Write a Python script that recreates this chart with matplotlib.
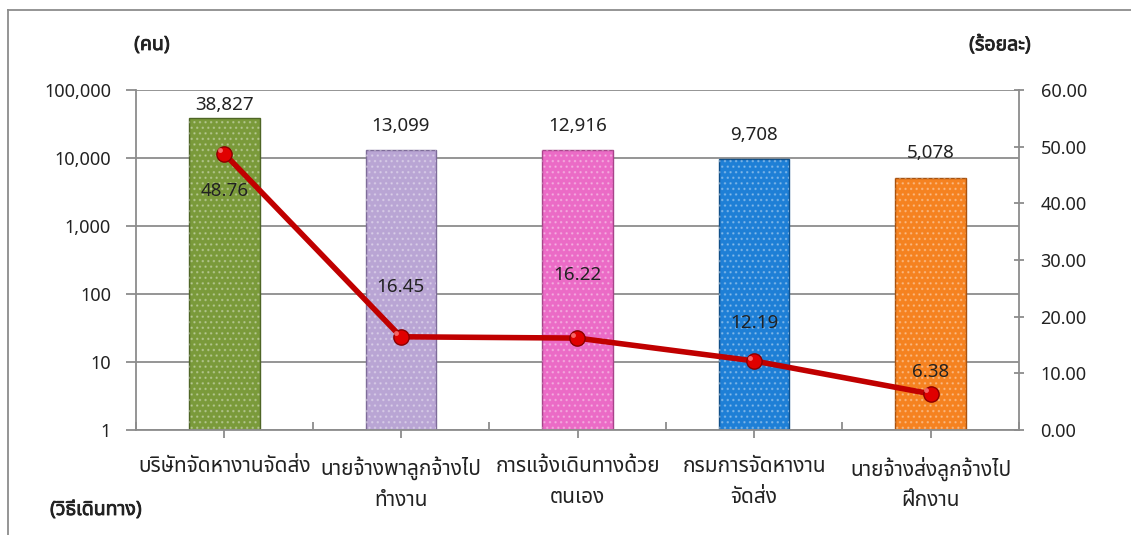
import matplotlib
matplotlib.use("Agg")
import matplotlib.pyplot as plt
from matplotlib import font_manager, patheffects
from matplotlib.ft2font import FT2Font
from matplotlib.ticker import FixedLocator, FuncFormatter
import numpy as np

categories = ["บริษัทจัดหางานจัดส่ง", "นายจ้างพาลูกจ้างไป\nทำงาน", "การแจ้งเดินทางด้วย\nตนเอง",
              "กรมการจัดหางาน\nจัดส่ง", "นายจ้างส่งลูกจ้างไป\nฝึกงาน"]
persons = [38827, 13099, 12916, 9708, 5078]
percent = [48.76, 16.45, 16.22, 12.19, 6.38]
bar_colors = ["#7A9A3A", "#B9A5D4", "#EB6BC6", "#1E7FD6", "#F58220"]
edge_colors = ["#4F6626", "#7E6C99", "#A8448A", "#10508A", "#A8520F"]
left_ticks = [1, 10, 100, 1000, 10000, 100000]
right_ticks = [0, 10, 20, 30, 40, 50, 60]

# find a font with Thai glyphs
thai_family = None
pref = ["Tahoma", "Noto Sans Thai", "Noto Sans Thai Looped", "Loma", "Garuda", "Sarabun",
        "Noto Sans", "DejaVu Sans", "Open Sans", "Lato", "Roboto", "Inter"]
cands = {}
for f in font_manager.fontManager.ttflist:
    try:
        cm = FT2Font(f.fname).get_charmap()
        if 0x0E01 in cm:
            cands.setdefault(f.name, f.fname)
    except Exception:
        pass
for p in pref:
    if p in cands:
        thai_family = p
        break
if thai_family is None and cands:
    thai_family = sorted(cands)[0]
families = ([thai_family] if thai_family else []) + ["DejaVu Sans"]
plt.rcParams["font.family"] = families

fig = plt.figure(figsize=(11.31, 5.35), dpi=100)
W, H = 1131, 535
ax = fig.add_axes([136 / W, 1 - 430 / H, (1019 - 136) / W, (430 - 90) / H])
ax2 = ax.twinx()

x = np.arange(len(categories))
ax.set_yscale("log")
ax.set_ylim(1, 100000)
ax.set_xlim(-0.5, len(categories) - 0.5)
ax.bar(x, persons, width=0.4, color=bar_colors, edgecolor=edge_colors, linewidth=1.0, zorder=2)
ax.bar(x, persons, width=0.4, color="none", edgecolor=(1, 1, 1, 0.3), hatch="...", linewidth=0, zorder=3)

ax.yaxis.set_major_locator(FixedLocator(left_ticks))
ax.yaxis.set_minor_locator(FixedLocator([]))
ax.yaxis.set_major_formatter(FuncFormatter(lambda v, p: f"{int(round(v)):,}"))
ax.grid(axis="y", color="#8C8C8C", linewidth=1.3, zorder=0)
ax.set_axisbelow(True)

ax.set_xticks(np.arange(-0.5, len(categories), 1.0), minor=False)
ax.set_xticklabels([])
ax.set_xticks(x, minor=True)
ax.set_xticklabels(categories, minor=True, fontsize=15, color="#222222", linespacing=1.6)
ax.tick_params(axis="x", which="major", length=6, direction="in", color="#8C8C8C", width=1.3)
ax.tick_params(axis="x", which="minor", length=6, direction="out", color="#8C8C8C", width=1.3, pad=13)
ax.tick_params(axis="y", length=7, direction="out", color="#8C8C8C", width=1.3, labelsize=13, labelcolor="#222222", pad=11)

for s in ["top", "right"]:
    ax.spines[s].set_visible(False)
ax.spines["left"].set_color("#8C8C8C")
ax.spines["left"].set_linewidth(1.3)
ax.spines["bottom"].set_color("#8C8C8C")
ax.spines["bottom"].set_linewidth(1.3)

bar_offsets = [13, 24, 24, 24, 25]
for xi, v, off in zip(x, persons, bar_offsets):
    ax.annotate(f"{v:,}", (xi, v), xytext=(0, off), textcoords="offset pixels",
                ha="center", va="center", fontsize=13.5, color="#222222", zorder=6)

ax2.set_ylim(0, 60)
ax2.yaxis.set_major_locator(FixedLocator(right_ticks))
ax2.yaxis.set_major_formatter(FuncFormatter(lambda v, p: f"{v:.2f}"))
ax2.plot(x, percent, color="#C00000", linewidth=4.0, zorder=4, solid_capstyle="round")
ax2.plot(x, percent, linestyle="none", marker="o", markersize=11, markerfacecolor="#E00000",
         markeredgecolor="#8A0000", markeredgewidth=1.0, zorder=5)
ax2.plot(np.array(x) - 0.025, np.array(percent) + 0.6, linestyle="none", marker="o", markersize=3.5,
         markerfacecolor="#FF8080", markeredgewidth=0, zorder=6, alpha=0.8)
for s in ["top", "left", "bottom"]:
    ax2.spines[s].set_visible(False)
ax2.spines["right"].set_color("#8C8C8C")
ax2.spines["right"].set_linewidth(1.3)
ax2.tick_params(axis="y", length=7, direction="inout", color="#8C8C8C", width=1.3, labelsize=13, labelcolor="#222222", pad=12)

offsets = [(0, -37), (0, 50), (0, 63), (0, 38), (0, 22)]
for xi, v, off in zip(x, percent, offsets):
    ax2.annotate(f"{v:.2f}", (xi, v), xytext=off, textcoords="offset pixels",
                 ha="center", va="center", fontsize=13.5, color="#222222", zorder=7)

bold = [patheffects.withStroke(linewidth=0.6, foreground="#222222")]
fig.text(152 / W, 1 - 45 / H, "(คน)", ha="center", va="center", fontsize=14, fontweight="bold",
         color="#222222", path_effects=bold)
fig.text(1000 / W, 1 - 45 / H, "(ร้อยละ)", ha="center", va="center", fontsize=14, fontweight="bold",
         color="#222222", path_effects=bold)
fig.text(96 / W, 1 - 510 / H, "(วิธีเดินทาง)", ha="center", va="center", fontsize=14, fontweight="bold",
         color="#222222", path_effects=bold)

# outer chart frame
fig.add_artist(plt.Line2D([8 / W, 8 / W], [0, 1 - 10 / H], transform=fig.transFigure, color="#8C8C8C", linewidth=1.3))
fig.add_artist(plt.Line2D([8 / W, 1], [1 - 10 / H, 1 - 10 / H], transform=fig.transFigure, color="#8C8C8C", linewidth=1.3))

fig.savefig("out.png", dpi=100)
